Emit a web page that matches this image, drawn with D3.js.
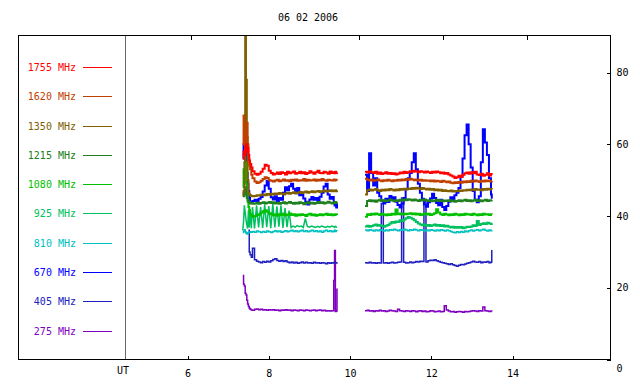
<!DOCTYPE html>
<html>
<head>
<meta charset="utf-8">
<script src="https://cdn.jsdelivr.net/npm/d3@7"></script>
<style>
  body { margin: 0; background: #fff; }
  text { font-family: "DejaVu Sans Mono", monospace; font-size: 10px; }
</style>
</head>
<body>
<div id="chart"></div>
<script>
// frequencies, top to bottom in the legend
var freqs = ["1755", "1620", "1350", "1215", "1080", "925", "810", "670", "405", "275"];
var colors = ["#ff0000", "#c04000", "#806000", "#208020", "#00c000", "#00c060", "#00c0c0", "#0000ff", "#2020c0", "#8000c0"];
var hourTicks = [6, 8, 10, 12, 14];
var fluxTicks = [0, 20, 40, 60, 80];

// UT hours of the samples (two observing runs)
var times1 = [7.36, 7.38, 7.40, 7.42, 7.44, 7.46, 7.48, 7.50, 7.52, 7.54, 7.57, 7.60]
  .concat(d3.range(7.65, 9.601, 0.05), [9.62, 9.64, 9.66, 9.68]);
var times2 = d3.range(10.37, 13.471, 0.05).concat([13.49]);

// run 1 values
var v1755_1 = [56, 58, 57, 59, 60, 58, 59, 57, 55.5, 54.5, 53.5, 52.5,
  51.8, 51.5, 51.8, 52.3, 53.2, 54.3, 54.0, 52.6, 52.0, 51.6,
  51.8, 52.1, 51.7, 52.2, 52.0, 51.6, 52.3, 51.9, 52.1, 52.4,
  51.8, 52.0, 52.3, 51.9, 52.2, 51.7, 52.0, 52.5, 52.1, 51.8,
  52.2, 52.6, 52.0, 51.9, 52.3, 52.1, 51.8, 52.4, 52.0, 52.2,
  51.9, 52.3, 52.0, 52.1];
var v1620_1 = [60, 68, 63, 58, 62, 66, 60, 56, 54, 53, 51.5, 50.5,
  49.6, 49.2, 49.4, 49.8, 50.3, 50.8, 50.6, 50.0, 49.8, 49.6,
  49.9, 50.1, 49.7, 49.9, 50.2, 49.8, 50.0, 49.7, 50.1, 49.9,
  50.2, 49.8, 50.0, 49.9, 50.3, 49.8, 50.1, 49.9, 50.0, 50.2,
  49.8, 50.1, 49.9, 50.3, 50.0, 49.8, 50.1, 50.0, 49.9, 50.2,
  49.9, 50.1, 50.0, 49.9];
var v1350_1 = [46, 47, 55, 95, 78, 62, 50, 46.5, 46, 45.8, 45.6, 45.5,
  45.6, 45.8, 45.7, 45.9, 46.0, 45.8, 46.1, 45.9, 46.2, 46.0,
  46.3, 46.1, 46.4, 46.2, 46.0, 46.3, 46.5, 46.2, 46.4, 46.6,
  46.3, 46.5, 46.7, 46.4, 46.6, 46.8, 46.5, 46.7, 46.9, 46.6,
  46.8, 47.0, 46.7, 46.9, 47.1, 46.8, 47.0, 47.2, 46.9, 47.1,
  47.0, 47.2, 46.9, 47.1];
var v1215_1 = [46.5, 45.5, 47, 48, 46, 45, 44.5, 44, 43.8, 43.5, 43.6, 43.4,
  43.5, 43.7, 43.4, 43.6, 43.8, 43.5, 43.7, 43.9, 43.6, 43.8,
  43.5, 43.7, 43.4, 43.6, 43.8, 43.5, 43.7, 43.9, 43.6, 43.4,
  43.7, 43.5, 43.8, 43.6, 43.3, 43.6, 43.8, 43.5, 43.7, 43.4,
  43.6, 43.9, 43.6, 43.8, 43.5, 43.7, 44.0, 43.7, 43.5, 43.8,
  43.6, 43.9, 43.7, 43.8];
var v1080_1 = [48, 53, 50, 55, 49, 47, 44, 42.5, 41.5, 40.5, 40.0, 39.8,
  40.0, 40.3, 40.5, 40.9, 41.3, 41.6, 41.2, 40.8, 40.5, 40.2,
  40.4, 40.1, 40.5, 40.3, 40.6, 40.2, 40.4, 40.7, 40.3, 40.5,
  40.1, 40.4, 40.2, 40.5, 40.3, 40.0, 40.4, 40.6, 40.2, 40.4,
  40.1, 40.3, 40.5, 40.2, 40.4, 40.6, 40.3, 40.5, 40.2, 40.4,
  40.3, 40.5, 40.4, 40.3];
var v925_1 = [36.0, 38.5, 43.0, 41.0, 39.0, 37.5, 36.5, 41.5, 36.8, 42.0, 36.6, 42.5,
  36.5, 43.0, 36.8, 42.5, 36.7, 43.2, 36.9, 42.8, 36.6, 43.5,
  36.8, 42.7, 37.0, 43.0, 36.7, 42.2, 36.9, 41.5, 36.8, 37.2,
  36.9, 37.3, 37.0, 37.2, 36.8, 39.3, 37.1, 36.9, 37.2, 37.0,
  36.8, 37.1, 36.9, 37.2, 37.0, 36.8, 37.1, 36.9, 37.2, 37.0,
  36.8, 37.1, 36.9, 37.0];
var v810_1 = [35.4, 35.8, 36.2, 35.6, 35.2, 35.0, 35.3, 35.5, 35.4, 35.6, 35.5, 35.7,
  35.5, 35.8, 35.6, 35.4, 35.7, 35.5, 35.8, 35.6, 35.4, 35.7,
  35.9, 35.6, 35.8, 35.5, 35.7, 35.9, 35.6, 35.8, 36.0, 35.7,
  35.9, 35.6, 35.8, 36.0, 35.7, 35.9, 35.6, 35.8, 36.0, 35.7,
  35.9, 35.6, 35.8, 35.5, 35.8, 36.0, 35.7, 35.9, 35.6, 35.8,
  36.0, 35.7, 35.9, 35.8];
var v670_1 = [56, 60, 57, 54, 58, 52, 49, 47, 45, 44, 43.6, 44.2,
  44.5, 44.0, 44.8, 45.3, 46.8, 48.5, 49.8, 47.6, 45.2, 44.6,
  45.5, 44.2, 45.0, 44.5, 46.5, 48.0, 47.2, 48.3, 49.0, 47.6,
  46.8, 47.8, 45.8, 46.5, 44.9, 44.0, 43.2, 44.6, 45.3, 44.5,
  45.0, 44.2, 45.4, 46.5, 48.2, 49.0, 46.0, 44.8, 45.3, 43.8,
  42.9, 43.6, 42.4, 43.4];
var v405_1 = [null, null, null, null, null, null, null, 36.0, 30.0, 29.2, 28.5, 31.0,
  27.8, 27.4, 27.2, 27.0, 27.3, 27.1, 27.4, 27.2, 27.5, 27.9,
  28.1, 27.6, 27.4, 27.6, 27.3, 27.5, 27.2, 27.0, 27.2, 26.9,
  27.1, 26.8, 27.0, 27.2, 26.9, 27.1, 26.9, 27.0, 26.8, 27.1,
  26.9, 27.0, 26.8, 27.0, 26.9, 26.7, 27.0, 26.8, 27.0, 26.9,
  27.1, 27.0, 26.9, 27.1];
var v275_1 = [23.4, 21.0, 20.5, 18.5, 18.0, 16.5, 15.5, 14.8, 14.3, 14.0, 13.8, 13.7,
  14.0, 14.1, 13.9, 14.0, 13.8, 13.9, 13.7, 13.9, 13.8, 13.9,
  13.7, 13.8, 13.6, 13.8, 13.7, 13.9, 13.7, 13.8, 13.6, 13.8,
  13.7, 13.6, 13.8, 13.7, 13.6, 13.8, 13.7, 13.6, 13.7, 13.8,
  13.6, 13.7, 13.8, 13.6, 13.7, 13.5, 13.6, 13.5, 13.6, 22.0,
  30.4, 13.4, 13.5, 19.8];

// run 2 values
var v1755_2 = [52.3, 52.1, 52.4, 52.2, 52.0, 52.3, 51.8, 52.1, 51.7, 51.9, 52.2, 51.8, 52.0, 51.7, 51.9, 51.6, 51.8, 52.1, 51.9, 52.3, 52.0,
  52.2, 52.5, 52.3, 52.6, 52.4, 52.2, 52.5, 52.3, 52.1, 52.4, 52.2, 52.0, 52.3, 52.1, 52.4, 52.2, 51.9, 52.1, 51.8, 52.0,
  51.6, 51.3, 51.0, 50.6, 50.8, 51.2, 50.9, 51.5, 51.9, 52.1,
  51.8, 52.2, 51.9, 52.3, 51.6, 51.4, 51.8, 51.2, 51.5, 51.9, 51.3, 51.7, 51.5];
var v1620_2 = [50.4, 50.1, 49.9, 50.2, 49.8, 50.0, 50.2, 49.9, 49.7, 50.0, 49.8, 50.1, 49.9, 49.7, 50.0, 49.8, 50.1, 49.9, 50.2, 50.0, 50.3,
  50.1, 50.4, 50.2, 50.0, 50.2, 49.9, 50.1, 49.8, 50.0, 49.8, 49.9, 49.7, 49.9, 49.6, 49.8, 49.7, 49.5, 49.8, 49.6, 49.4,
  49.6, 49.3, 49.1, 49.4, 49.2, 49.5, 49.3, 49.6, 49.4, 49.7,
  49.5, 49.8, 49.6, 49.9, 49.7, 49.5, 49.8, 49.6, 49.9, 49.7, 49.8, 49.6, 49.8];
var v1350_2 = [46.0, 47.2, 47.4, 47.1, 47.3, 47.5, 47.2, 47.0, 47.3, 47.1, 47.4, 47.2, 47.5, 47.3, 47.1, 47.4, 47.2, 47.5, 47.3, 47.6, 47.4,
  47.7, 47.5, 47.8, 47.6, 47.9, 47.7, 47.5, 47.8, 47.6, 47.4, 47.6, 47.3, 47.5, 47.2, 47.4, 47.1, 47.3, 47.0, 47.2, 47.0,
  46.9, 47.1, 46.8, 47.0, 46.9, 47.1, 47.0, 47.2, 47.1, 47.3,
  47.2, 47.4, 47.2, 47.5, 47.3, 47.4, 47.2, 47.5, 47.3, 47.6, 47.4, 47.5, 47.4];
var v1215_2 = [42.8, 44.2, 44.4, 44.1, 44.3, 44.0, 44.3, 44.5, 44.2, 44.4, 44.1, 44.3, 44.6, 44.3, 44.1, 44.4, 44.2, 44.5, 44.3, 44.6, 44.4,
  44.7, 44.5, 44.3, 44.6, 44.4, 44.2, 44.5, 44.3, 44.6, 44.4, 44.2, 44.4, 44.1, 44.3, 44.5, 44.2, 44.4, 44.1, 44.3, 44.2,
  44.4, 44.1, 44.3, 44.0, 44.2, 44.4, 44.1, 44.3, 44.5, 44.2,
  44.4, 44.1, 44.3, 44.5, 44.2, 44.4, 44.1, 44.3, 44.5, 44.2, 44.4, 44.3, 44.4];
var v1080_2 = [39.8, 40.5, 40.3, 40.6, 40.4, 40.7, 40.5, 40.3, 40.6, 40.4, 40.2, 40.5, 40.3, 40.6, 40.4, 41.8, 40.5, 40.7, 40.4, 40.6, 40.5,
  40.6, 40.8, 40.5, 40.7, 40.4, 40.6, 40.3, 40.5, 40.7, 40.4, 40.6, 40.3, 40.5, 40.8, 41.9, 41.0, 40.5, 40.3, 40.6, 40.4,
  40.2, 40.5, 40.3, 40.6, 40.4, 40.2, 40.5, 40.3, 40.6, 40.4,
  40.5, 40.3, 40.6, 40.4, 40.2, 40.5, 40.3, 40.6, 40.4, 40.5, 40.3, 40.5, 40.4];
var v925_2 = [37.1, 37.3, 37.0, 37.2, 37.4, 37.6, 37.3, 37.5, 37.2, 37.0, 37.3, 37.5, 37.9, 38.3, 38.1, 38.5, 38.3, 38.8, 38.6, 39.0, 39.4,
  39.7, 39.5, 39.2, 38.8, 38.3, 37.9, 37.6, 37.4, 37.6, 37.3, 37.5, 37.2, 37.4, 37.6, 37.3, 37.5, 37.2, 37.4, 37.1, 37.3,
  37.0, 36.8, 37.0, 36.7, 36.9, 36.7, 36.9, 36.6, 36.8, 37.0,
  36.9, 37.1, 37.4, 37.2, 38.6, 37.5, 37.8, 38.0, 37.8, 38.1, 37.9, 37.8, 38.0];
var v810_2 = [36.1, 35.9, 36.2, 36.0, 35.8, 36.1, 35.9, 36.2, 36.0, 35.8, 36.1, 35.9, 36.2, 36.0, 36.3, 36.1, 35.9, 36.2, 36.0, 36.3, 36.1,
  35.9, 36.2, 36.0, 36.3, 36.1, 35.9, 36.2, 36.0, 35.8, 36.1, 35.9, 36.2, 36.0, 35.8, 36.1, 35.9, 36.2, 36.0, 35.8, 36.1,
  35.9, 35.7, 35.5, 35.3, 35.6, 35.4, 35.7, 35.5, 35.8, 35.6,
  35.9, 36.1, 35.8, 36.0, 36.2, 35.9, 36.1, 36.3, 36.0, 35.8, 36.1, 35.9, 36.0];
var v670_2 = [51.5, 47.0, 57.5, 52.0, 48.5, 50.5, 46.5, 45.5, 44.3, 43.5, 44.8, 43.9, 45.6, 44.5, 45.2, 44.0, 43.1, 42.4, 43.5, 45.0, 47.5,
  50.5, 52.0, 55.0, 57.5, 53.0, 49.0, 46.5, 44.8, 43.2, 42.6, 43.8, 44.9, 46.2, 45.0, 43.6, 43.0, 44.5, 42.5, 41.7, 42.8,
  44.0, 45.2, 44.6, 45.8, 46.5, 47.8, 51.0, 56.0, 62.5, 65.5,
  60.0, 53.5, 47.0, 44.5, 43.8, 45.5, 55.0, 64.2, 60.5, 57.0, 50.5, 46.0, 44.8];
var v405_2 = [27.0, 26.9, 27.1, 26.9, 27.0, 26.8, 27.0, 26.9, 43.5, 26.9, 27.0, 26.8, 27.0, 27.1, 26.9, 27.0, 27.1, 27.2, 45.0, 27.1, 26.9,
  27.0, 27.2, 27.0, 27.1, 27.3, 27.2, 27.4, 27.3, 44.0, 27.2, 27.5, 27.7, 27.6, 27.8, 27.5, 27.3, 27.1, 27.0, 26.8, 26.7,
  26.5, 26.7, 26.4, 26.2, 26.0, 26.3, 26.5, 26.4, 26.6, 26.8,
  27.0, 27.2, 27.4, 27.2, 27.1, 27.3, 27.0, 27.2, 27.1, 27.3, 27.0, 27.2, 30.5];
var v275_2 = [13.6, 13.7, 13.5, 13.6, 13.4, 13.6, 13.5, 13.7, 13.5, 13.6, 13.4, 13.5, 13.7, 13.6, 13.5, 13.4, 14.0, 13.6, 13.5, 13.4, 13.6,
  13.5, 13.4, 13.6, 13.5, 13.3, 13.5, 13.6, 13.4, 13.5, 13.3, 13.4, 13.6, 13.5, 13.3, 13.4, 13.5, 13.3, 13.4, 15.0, 13.8,
  13.5, 13.3, 13.4, 13.2, 13.3, 13.4, 13.3, 13.2, 13.4, 13.3,
  13.4, 13.5, 13.6, 13.5, 13.4, 13.6, 13.5, 14.6, 13.6, 13.5, 13.4, 13.5, 13.4];

var run1 = [v1755_1, v1620_1, v1350_1, v1215_1, v1080_1, v925_1, v810_1, v670_1, v405_1, v275_1];
var run2 = [v1755_2, v1620_2, v1350_2, v1215_2, v1080_2, v925_2, v810_2, v670_2, v405_2, v275_2];

var svgWidth = 640;
var svgHeight = 384;
var plot = { left: 18, right: 610, top: 35, bottom: 359 };

var svg = d3.select("#chart")
  .append("svg")
  .attr("width", svgWidth)
  .attr("height", svgHeight);

// scales
var x = d3.scaleLinear().domain([6, 14]).range([187.5, 512.5]);
var xTop = d3.scaleLinear().domain([6, 14]).range([190.5, 526.5]);
var y = d3.scaleLinear().domain([0, 80]).range([359.5, 72.5]);
var legendY = d3.scalePoint().domain(freqs).range([67, 330.5]);

// title
svg.append("text")
  .attr("x", 308)
  .attr("y", 21)
  .attr("text-anchor", "middle")
  .attr("fill", "#000")
  .text("06 02 2006");

// clip for the data
svg.append("clipPath").attr("id", "plotclip")
  .append("rect")
  .attr("x", plot.left).attr("y", plot.top)
  .attr("width", plot.right - plot.left).attr("height", plot.bottom - plot.top);

// UT separator line
svg.append("line")
  .attr("x1", 125.5).attr("x2", 125.5)
  .attr("y1", plot.top).attr("y2", plot.bottom)
  .attr("stroke", "#666")
  .attr("stroke-width", 1);

// data lines, low frequency first so red ends on top
var stepLine = d3.line()
  .defined(d => d.v != null)
  .x(d => x(d.t))
  .y(d => y(d.v))
  .curve(d3.curveStepAfter);
// the 925 MHz oscillation in run 1 reads better as plain segments
var plainLine = d3.line()
  .defined(d => d.v != null)
  .x(d => x(d.t))
  .y(d => y(d.v));

var dataG = svg.append("g").attr("clip-path", "url(#plotclip)");
for (var k = freqs.length - 1; k >= 0; k--) {
  [[times1, run1[k], 1], [times2, run2[k], 2]].forEach(function(seg) {
    var pts = seg[1].map((v, i) => ({ t: seg[0][i], v: v })).filter(d => d.t != null);
    var comb = freqs[k] === "925" && seg[2] === 1;
    var thin = freqs[k] === "405" || freqs[k] === "275" || freqs[k] === "810";
    dataG.append("path")
      .datum(pts)
      .attr("d", comb ? plainLine : stepLine)
      .attr("fill", "none")
      .attr("stroke", colors[k])
      .attr("stroke-width", comb ? 1.5 : (thin ? 1.5 : 2));
  });
}

// frame
svg.append("rect")
  .attr("x", plot.left + 0.5).attr("y", plot.top + 0.5)
  .attr("width", plot.right - plot.left).attr("height", plot.bottom - plot.top)
  .attr("fill", "none")
  .attr("stroke", "#000")
  .attr("stroke-width", 1);

// bottom axis
var xAxis = svg.append("g")
  .attr("transform", "translate(0," + (plot.bottom + 0.5) + ")")
  .call(d3.axisBottom(x).tickValues(hourTicks).tickSizeInner(-4).tickSizeOuter(0).tickPadding(10));
xAxis.select(".domain").remove();

svg.append("text")
  .attr("x", 123)
  .attr("y", 374)
  .attr("text-anchor", "middle")
  .attr("fill", "#000")
  .text("UT");

// top ticks
var topAxis = svg.append("g")
  .attr("transform", "translate(0," + (plot.top + 0.5) + ")")
  .call(d3.axisTop(xTop).tickValues(hourTicks).tickSizeInner(-4).tickSizeOuter(0).tickFormat(""));
topAxis.select(".domain").remove();

// right axis
var yAxis = svg.append("g")
  .attr("transform", "translate(" + (plot.right + 0.5) + ",0)")
  .call(d3.axisRight(y).tickValues(fluxTicks).tickSizeInner(-4).tickSizeOuter(0).tickPadding(6));
yAxis.select(".domain").remove();
yAxis.selectAll(".tick text").filter(d => d === 0).attr("dy", "1.2em");

svg.selectAll(".tick text")
  .attr("font-family", "DejaVu Sans Mono, monospace")
  .attr("font-size", 10)
  .attr("fill", "#000");
svg.selectAll(".tick line").attr("stroke", "#000").attr("shape-rendering", "crispEdges");

// legend
var legend = svg.append("g");
freqs.forEach(function(f, i) {
  var ly = Math.round(legendY(f)) + 0.5;
  legend.append("text")
    .attr("x", 76)
    .attr("y", ly)
    .attr("dy", "0.35em")
    .attr("text-anchor", "end")
    .attr("fill", colors[i])
    .text(f + " MHz");
  legend.append("line")
    .attr("x1", 83).attr("x2", 112)
    .attr("y1", ly).attr("y2", ly)
    .attr("stroke", colors[i])
    .attr("stroke-width", 1);
});
</script>
</body>
</html>
